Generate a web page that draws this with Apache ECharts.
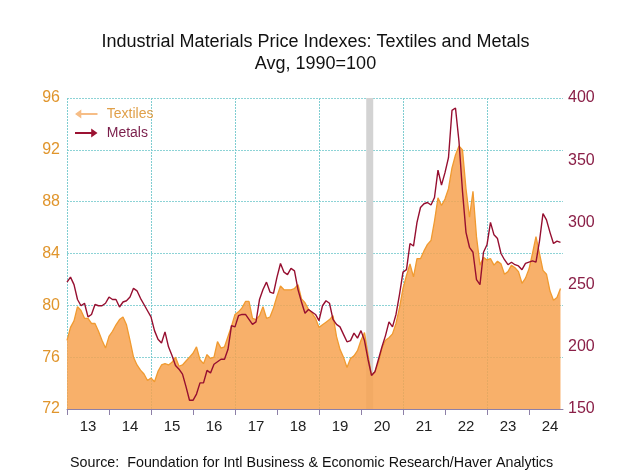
<!DOCTYPE html>
<html>
<head>
<meta charset="utf-8">
<script src="https://cdn.jsdelivr.net/npm/echarts@6/dist/echarts.min.js"></script>
<style>
html,body{margin:0;padding:0;background:#fff;}
#chart{width:631px;height:473px;}
</style>
</head>
<body>
<div id="chart"></div>
<script>
// Monthly data, Jan 2013 .. Oct 2024
var startYear = 2013;
var textiles = [
  77.3, 78.3, 78.8, 79.9, 79.6, 79.0, 79.0, 78.6, 78.6, 78.0, 77.3, 76.7,
  77.6, 78.0, 78.5, 78.9, 79.1, 78.5, 77.3, 76.0, 75.4, 75.0, 74.7, 74.2,
  74.4, 74.1, 74.9, 75.4, 75.5, 75.4, 75.6, 76.0, 75.3, 75.4, 75.7, 76.0,
  76.3, 76.8, 75.8, 75.5, 76.2, 75.9, 76.0, 77.2, 76.7, 76.8, 77.6, 78.4,
  79.3, 79.5, 79.8, 80.3, 80.3, 79.0, 78.9, 79.2, 79.9, 79.0, 79.1, 79.8,
  80.7, 81.5, 81.2, 81.2, 81.2, 81.3, 81.6, 80.5, 80.2, 79.7, 79.4, 79.0,
  78.3, 78.5, 78.7, 78.9, 79.2, 77.6, 76.6, 76.0, 75.2, 75.9, 76.1, 76.5,
  77.3, 77.9, 76.2, 74.6, 74.9, 75.6, 76.7, 77.3, 77.5, 77.8, 78.6, 79.8,
  81.3, 82.3, 83.2, 82.2, 83.6, 83.6, 84.2, 84.7, 85.0, 86.5, 88.3, 87.7,
  88.2, 89.0, 90.6, 91.6, 92.3, 92.0, 89.0, 86.8, 88.8, 85.3, 83.1, 83.7,
  83.5, 83.6, 83.1, 83.4, 83.2, 82.4, 82.6, 83.1, 82.9, 82.6, 81.7, 82.1,
  82.8, 84.0, 85.3, 84.0, 82.7, 82.4, 81.1, 80.4, 80.6, 81.3
];
var metals = [
  252, 256, 250, 238, 233, 235, 224, 226, 234, 233, 233, 235,
  240, 238, 238, 232, 236, 237, 240, 247, 245, 239, 234, 229,
  224, 213, 206, 203, 212, 200, 193, 185, 182, 178, 168, 157,
  157, 162, 171, 171, 181, 179, 186, 188, 190, 190, 198, 217,
  216, 225, 226, 226, 222, 218, 220, 238, 246, 252, 244, 243,
  256, 267, 260, 258, 263, 261, 246, 236, 227, 230, 228, 226,
  221, 233, 237, 235, 222, 218, 216, 210, 204, 205, 211, 207,
  213, 205, 190, 177, 180, 190, 200, 209, 220, 216, 226, 242,
  260, 262, 283, 281, 300, 312, 315, 316, 314, 320, 342, 330,
  340, 352, 390, 392, 365, 325, 292, 280, 276, 254, 250, 276,
  282, 300, 290, 287, 275, 270, 266, 268, 266, 265, 262, 267,
  268, 269, 268, 285, 307, 302, 292, 283, 285, 284
];
var years = [2013, 2014, 2015, 2016, 2017, 2018, 2019, 2020, 2021, 2022, 2023, 2024];
var yearLabels = ['13', '14', '15', '16', '17', '18', '19', '20', '21', '22', '23', '24'];
var gridYears = [2013, 2015, 2017, 2019, 2021, 2023];
var recession = [2020 + 1.5 / 12, 2020 + 3.5 / 12];
var titleLines = ['Industrial Materials Price Indexes: Textiles and Metals', 'Avg, 1990=100'];
var sourceText = 'Source:  Foundation for Intl Business & Economic Research/Haver Analytics';

function toPairs(arr) {
  return arr.map(function (v, i) { return [startYear + i / 12, v]; });
}

var gridColor = '#8dd3d6';
var chart = echarts.init(document.getElementById('chart'), null, {renderer: 'canvas'});
var option = {
  animation: false,
  backgroundColor: '#ffffff',
  textStyle: {fontFamily: 'Liberation Sans, Arial, sans-serif'},
  title: [
    {text: titleLines[0] + '\n' + titleLines[1], left: 'center', top: 26,
     textStyle: {fontSize: 18, fontWeight: 'normal', color: '#111', lineHeight: 22, fontFamily: 'Liberation Sans'}},
    {text: sourceText, left: 65, top: 451,
     textStyle: {fontSize: 14.3, fontWeight: 'normal', color: '#111', fontFamily: 'Liberation Sans'}}
  ],
  legend: {
    orient: 'vertical', left: 70, top: 102, itemWidth: 25, itemHeight: 9, itemGap: 5,
    textStyle: {fontSize: 14, fontFamily: 'Liberation Sans', padding: [0, 0, 0, 3]},
    data: [
      {name: 'Textiles', icon: 'path://M25,4 L7,4 L7,0 L0,5 L7,10 L7,6 L25,6 Z',
       itemStyle: {color: '#f6bd86'}, textStyle: {color: '#e0a04a'}},
      {name: 'Metals', icon: 'path://M0,4 L18,4 L18,0 L25,5 L18,10 L18,6 L0,6 Z',
       itemStyle: {color: '#9b1232'}, textStyle: {color: '#7a1e4a'}}
    ]
  },
  grid: {left: 67, right: 68, top: 98, bottom: 64, containLabel: false},
  xAxis: [
    {type: 'value', min: 2013, max: 2024.81, position: 'bottom', z: 5,
     axisLine: {show: true, lineStyle: {color: '#8d80a8', width: 1}},
     axisTick: {show: true, customValues: years, length: 6, lineStyle: {color: '#8d80a8'}},
     axisLabel: {show: true, customValues: years.map(function (y) { return y + 0.5; }),
       formatter: function (v) { return yearLabels[years.indexOf(Math.floor(v))]; },
       fontSize: 15, color: '#222', margin: 10, fontFamily: 'Liberation Sans'},
     splitLine: {show: false}},
    {type: 'value', min: 2013, max: 2024.81, position: 'bottom',
     axisLine: {show: false}, axisTick: {show: false, customValues: gridYears},
     axisLabel: {show: false},
     splitLine: {show: true, lineStyle: {color: '#7fcdd1', type: [2, 1], width: 1}}}
  ],
  yAxis: [
    {type: 'value', min: 72, max: 96, interval: 4, position: 'left',
     axisLine: {show: false}, axisTick: {show: false},
     axisLabel: {fontSize: 16, color: '#e0952c', margin: 7, fontFamily: 'Liberation Sans'},
     splitLine: {show: true, lineStyle: {color: gridColor, type: [2, 1], width: 1}}},
    {type: 'value', min: 150, max: 400, interval: 50, position: 'right',
     axisLine: {show: false}, axisTick: {show: false},
     axisLabel: {fontSize: 16, color: '#8a1f47', margin: 5, fontFamily: 'Liberation Sans'},
     splitLine: {show: false}}
  ],
  series: [
    {name: 'Textiles', type: 'line', xAxisIndex: 0, yAxisIndex: 0, data: toPairs(textiles),
     showSymbol: false, z: 2,
     lineStyle: {color: '#f09a30', width: 1.3},
     itemStyle: {color: '#f09a30'},
     areaStyle: {color: '#f7a250', opacity: 0.85, origin: 'start'}},
    {name: 'Recession', type: 'line', xAxisIndex: 0, yAxisIndex: 0, data: [], z: 3,
     markArea: {silent: true, itemStyle: {color: '#d3d3d3', opacity: 1},
       data: [[{xAxis: recession[0]}, {xAxis: recession[1]}]]}},
    {name: 'Metals', type: 'line', xAxisIndex: 0, yAxisIndex: 1, data: toPairs(metals),
     showSymbol: false, z: 4,
     lineStyle: {color: '#960f30', width: 1.4},
     itemStyle: {color: '#960f30'}}
  ]
};
chart.setOption(option);
</script>
</body>
</html>
